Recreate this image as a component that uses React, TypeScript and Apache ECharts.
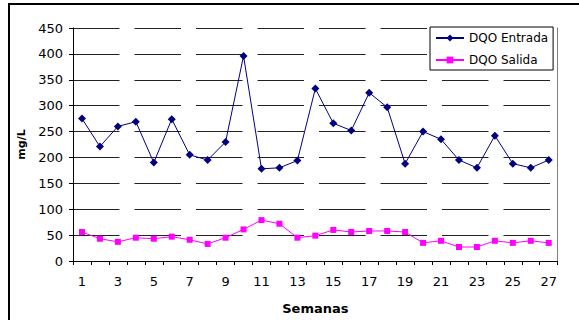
import React, { useEffect, useRef } from "react";
import * as echarts from "echarts";

// Weekly COD (DQO) at the inlet and outlet, mg/L
const semanas: string[] = Array.from({ length: 27 }, (_, i) => String(i + 1));
const dqoEntrada: number[] = [
  275, 221, 260, 269, 190, 274, 205, 195, 230, 396, 178, 180, 194, 333,
  266, 252, 325, 297, 188, 250, 235, 195, 180, 242, 188, 180, 195,
];
const dqoSalida: number[] = [
  56, 43, 37, 45, 43, 47, 41, 33, 45, 61, 79, 72, 45, 49,
  60, 56, 58, 58, 56, 35, 39, 27, 27, 39, 35, 39, 35,
];
const yTicks = { min: 0, max: 450, interval: 50 };

const FONT = "DejaVu Sans";

export default function App() {
  const ref = useRef<HTMLDivElement>(null);

  useEffect(() => {
    if (!ref.current) return;
    const chart = echarts.init(ref.current, undefined, { renderer: "svg" });
    chart.setOption({
      animation: false,
      backgroundColor: "#ffffff",
      grid: { left: 73, right: 21.3, top: 28, bottom: 57.7, containLabel: false },
      legend: {
        orient: "vertical",
        left: 430,
        top: 27,
        padding: [5, 5, 4, 5],
        itemGap: 10,
        itemWidth: 28,
        itemHeight: 8.5,
        backgroundColor: "#ffffff",
        borderColor: "#000000",
        borderWidth: 1,
        borderRadius: 0,
        textStyle: { fontFamily: FONT, fontSize: 12, color: "#000000", padding: [0, 0, 0, 0] },
        data: ["DQO Entrada", "DQO Salida"],
      },
      xAxis: {
        type: "category",
        data: semanas,
        boundaryGap: true,
        name: "Semanas",
        nameLocation: "middle",
        nameGap: 41,
        nameTextStyle: { fontFamily: FONT, fontSize: 13, fontWeight: "bold", color: "#000000" },
        axisLine: { lineStyle: { color: "#000000", width: 1 } },
        axisTick: { show: true, inside: false, length: 4, alignWithLabel: false, interval: 0, lineStyle: { color: "#000000" } },
        axisLabel: { interval: 1, margin: 14, fontFamily: FONT, fontSize: 13, color: "#000000" },
        splitLine: { show: false },
      },
      yAxis: [
        {
          type: "value",
          min: yTicks.min,
          max: yTicks.max,
          interval: yTicks.interval,
          name: "mg/L",
          nameLocation: "middle",
          nameGap: 46,
          nameRotate: 90,
          nameTextStyle: { fontFamily: FONT, fontSize: 11, fontWeight: "bold", color: "#000000" },
          axisLine: { show: true, lineStyle: { color: "#000000", width: 1 } },
          axisTick: { show: true, length: 4, lineStyle: { color: "#000000" } },
          axisLabel: { margin: 10, fontFamily: FONT, fontSize: 13, color: "#000000" },
          splitLine: { show: true, lineStyle: { color: "#222222", width: 1, type: [46.5, 15] } },
        },
        {
          type: "value",
          position: "right",
          min: yTicks.min,
          max: yTicks.max,
          interval: yTicks.interval,
          axisLine: { show: true, lineStyle: { color: "#808080", width: 1 } },
          axisTick: { show: false },
          axisLabel: { show: false },
          splitLine: { show: false },
        },
      ],
      series: [
        {
          name: "DQO Entrada",
          type: "line",
          data: dqoEntrada,
          yAxisIndex: 0,
          symbol: "diamond",
          symbolSize: 8,
          lineStyle: { color: "#000080", width: 1 },
          itemStyle: { color: "#000080" },
          emphasis: { disabled: true },
          z: 3,
        },
        {
          name: "DQO Salida",
          type: "line",
          data: dqoSalida,
          yAxisIndex: 0,
          symbol: "rect",
          symbolSize: 6,
          lineStyle: { color: "#FF00FF", width: 1 },
          itemStyle: { color: "#FF00FF" },
          emphasis: { disabled: true },
          z: 2,
        },
      ],
    });
    return () => chart.dispose();
  }, []);

  return (
    <div style={{ position: "fixed", left: 0, top: 0, width: 579, height: 320, background: "#fff" }}>
      <div ref={ref} style={{ position: "absolute", left: 0, top: 0, width: 579, height: 320 }} />
      <div
        style={{
          position: "absolute",
          left: 8,
          top: 3,
          width: 571,
          height: 317,
          borderLeft: "2px solid #000",
          borderTop: "2px solid #000",
          pointerEvents: "none",
          boxSizing: "border-box",
        }}
      />
    </div>
  );
}
